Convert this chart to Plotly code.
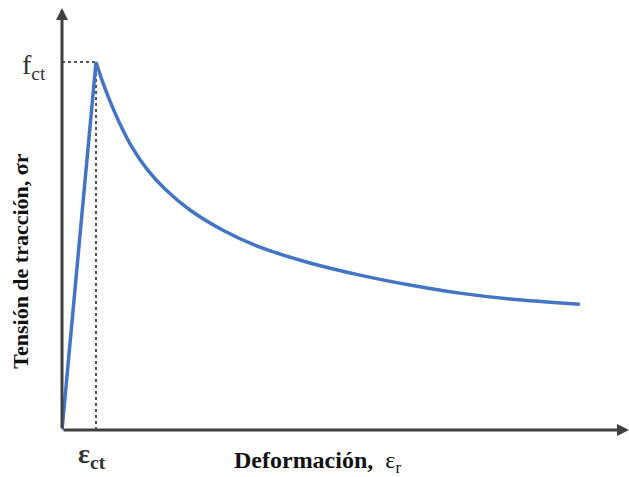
import plotly.graph_objects as go

# Tension-stiffening curve: strain normalised by eps_ct, stress normalised by f_ct
rise_strain = [0.0, 1.0]
rise_stress = [0.0, 1.0]
soft_strain = [1.0, 1.176, 1.412, 1.706, 2.059, 2.5, 3.029, 3.765, 4.735, 5.824,
               7.294, 8.765, 10.235, 11.706, 13.176, 15.235]
soft_stress = [1.0, 0.951, 0.894, 0.832, 0.769, 0.709, 0.655, 0.598, 0.543, 0.497,
               0.454, 0.421, 0.394, 0.372, 0.356, 0.342]

eps_ct = 1.0
f_ct = 1.0
x_max = 16.68
y_max = 1.147

axis_color = "#404040"
curve_color = "#4474c4"
serif = "Liberation Serif, Times New Roman, serif"

fig = go.Figure()

# dotted guides to the peak
fig.add_shape(type="line", x0=0, y0=f_ct, x1=eps_ct, y1=f_ct,
              line=dict(color="#555555", width=2, dash="dot"), layer="below")
fig.add_shape(type="line", x0=eps_ct, y0=0, x1=eps_ct, y1=f_ct,
              line=dict(color="#555555", width=2, dash="dot"), layer="below")

# linear branch up to cracking
fig.add_trace(go.Scatter(
    x=rise_strain, y=rise_stress, mode="lines",
    line=dict(color=curve_color, width=3.5),
    hoverinfo="skip", showlegend=False,
))
# softening branch after cracking
fig.add_trace(go.Scatter(
    x=soft_strain, y=soft_stress, mode="lines",
    line=dict(color=curve_color, width=3.5, shape="spline", smoothing=1.0),
    hoverinfo="skip", showlegend=False,
))

# axes with arrowheads
fig.add_annotation(x=x_max, y=0, ax=0, ay=0, xref="x", yref="y", axref="x", ayref="y",
                   showarrow=True, arrowhead=2, arrowsize=0.8, arrowwidth=3,
                   arrowcolor=axis_color, text="")
fig.add_annotation(x=0, y=y_max, ax=0, ay=0, xref="x", yref="y", axref="x", ayref="y",
                   showarrow=True, arrowhead=2, arrowsize=0.8, arrowwidth=3,
                   arrowcolor=axis_color, text="")

# peak labels
fig.add_annotation(x=0, y=f_ct, xref="x", yref="y", xanchor="right", yanchor="middle",
                   xshift=-14, yshift=-4, showarrow=False,
                   text="f<sub>ct</sub>", font=dict(family=serif, size=28, color="#333333"))
fig.add_annotation(x=eps_ct, y=0, xref="x", yref="y", xanchor="center", yanchor="top",
                   xshift=-4, yshift=-6, showarrow=False,
                   text="<b>ε</b><sub><b>ct</b></sub>", font=dict(family=serif, size=28, color="#333333"))

# axis titles
fig.add_annotation(x=0.45, y=0, xref="paper", yref="paper", xanchor="center", yanchor="top",
                   yshift=-15, showarrow=False,
                   text="<b>Deformación,</b>  ε<sub>r</sub>",
                   font=dict(family=serif, size=24, color="#111111"))
fig.add_annotation(x=0, y=0.40, xref="paper", yref="paper", xanchor="right", yanchor="middle",
                   xshift=-27, showarrow=False, textangle=-90,
                   text="<b>Tensión de tracción, σr</b>",
                   font=dict(family=serif, size=22, color="#111111"))

fig.update_xaxes(range=[0, x_max], visible=False, fixedrange=True)
fig.update_yaxes(range=[0, y_max], visible=False, fixedrange=True)

fig.update_layout(
    width=629, height=477,
    margin=dict(l=62, r=0, t=8, b=47),
    plot_bgcolor="white", paper_bgcolor="white",
    showlegend=False,
)

fig.write_html("out.html", config={"displayModeBar": False})
